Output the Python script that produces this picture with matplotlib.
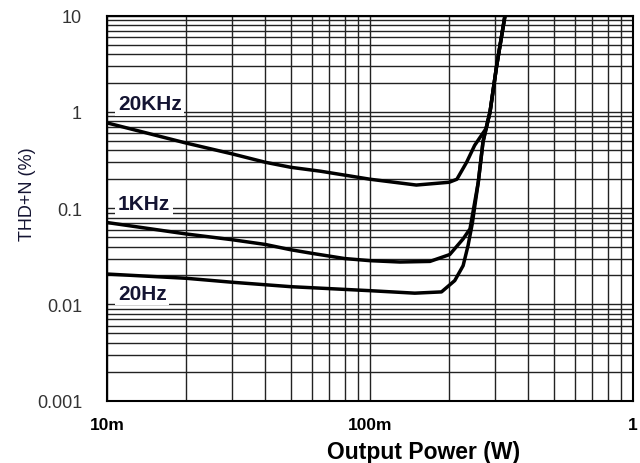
import matplotlib
matplotlib.use('Agg')
import matplotlib.pyplot as plt
from matplotlib.ticker import FixedLocator, LogLocator, NullFormatter

plt.rcParams['font.family'] = ['Liberation Sans', 'DejaVu Sans']

# THD+N vs output power
x20k = [0.01, 0.02, 0.03, 0.04, 0.05, 0.065, 0.1, 0.15, 0.2, 0.214, 0.233, 0.25, 0.276, 0.286, 0.303, 0.326]
y20k = [0.77, 0.475, 0.366, 0.30, 0.266, 0.242, 0.20, 0.174, 0.186, 0.20, 0.30, 0.45, 0.67, 1.0, 3.0, 10.0]

x1k = [0.01, 0.02, 0.03, 0.04, 0.05, 0.06, 0.08, 0.1, 0.13, 0.169, 0.201, 0.226, 0.24, 0.258, 0.269, 0.286, 0.303, 0.326]
y1k = [0.071, 0.054, 0.047, 0.042, 0.037, 0.034, 0.030, 0.0285, 0.0276, 0.028, 0.033, 0.048, 0.061, 0.186, 0.49, 1.0, 3.0, 10.0]

x20 = [0.01, 0.02, 0.03, 0.05, 0.1, 0.148, 0.187, 0.21, 0.226, 0.236, 0.245, 0.258, 0.269, 0.286, 0.303, 0.326]
y20 = [0.0207, 0.0187, 0.017, 0.0153, 0.0139, 0.0131, 0.0135, 0.0177, 0.0253, 0.041, 0.07, 0.186, 0.49, 1.0, 3.0, 10.0]

series = [(x20k, y20k, '20KHz', 1.21), (x1k, y1k, '1KHz', 0.111), (x20, y20, '20Hz', 0.0131)]

xticks = [0.01, 0.1, 1]
xtick_labels = ['10m', '100m', '1']
yticks = [0.001, 0.01, 0.1, 1, 10]
ytick_labels = ['0.001', '0.01', '0.1', '1', '10']

fig = plt.figure(figsize=(6.4, 4.64), dpi=100)
ax = fig.add_axes([107/640, 1-401.7/464, (633-107)/640, (401.7-16.7)/464])
ax.set_xscale('log')
ax.set_yscale('log')
ax.set_xlim(0.01, 1)
ax.set_ylim(0.001, 10)

ax.xaxis.set_major_locator(FixedLocator(xticks))
ax.yaxis.set_major_locator(FixedLocator(yticks))
ax.xaxis.set_minor_locator(LogLocator(base=10, subs=range(2, 10)))
ax.yaxis.set_minor_locator(LogLocator(base=10, subs=range(2, 10)))
ax.xaxis.set_minor_formatter(NullFormatter())
ax.yaxis.set_minor_formatter(NullFormatter())
ax.set_xticklabels(xtick_labels, fontsize=12.5, fontweight='bold')
ax.set_yticklabels(ytick_labels, fontsize=13, color='#333333')
ax.tick_params(which='both', length=0)
ax.tick_params(axis='x', pad=12)
ax.tick_params(axis='y', pad=18)

ax.grid(which='both', color='#222222', linewidth=1.0)
ax.set_axisbelow(True)
for s in ax.spines.values():
    s.set_linewidth(1.5)
    s.set_color('black')

for xs, ys, name, ylab in series:
    ax.plot(xs, ys, color='black', linewidth=2.5, solid_capstyle='round')
    ax.text(0.0110, ylab, name, fontsize=15, fontweight='bold', color='#141432',
            va='center', ha='left',
            bbox=dict(facecolor='white', edgecolor='none', pad=2))

fig.text(424/640, 1-453/464, 'Output Power (W)', fontsize=16.5, fontweight='bold',
         ha='center', va='center')
fig.text(27/640, 1-194/464, 'THD+N (%)', fontsize=13, rotation=90,
         ha='center', va='center', color='#141432')

fig.savefig('out.png', dpi=100)
